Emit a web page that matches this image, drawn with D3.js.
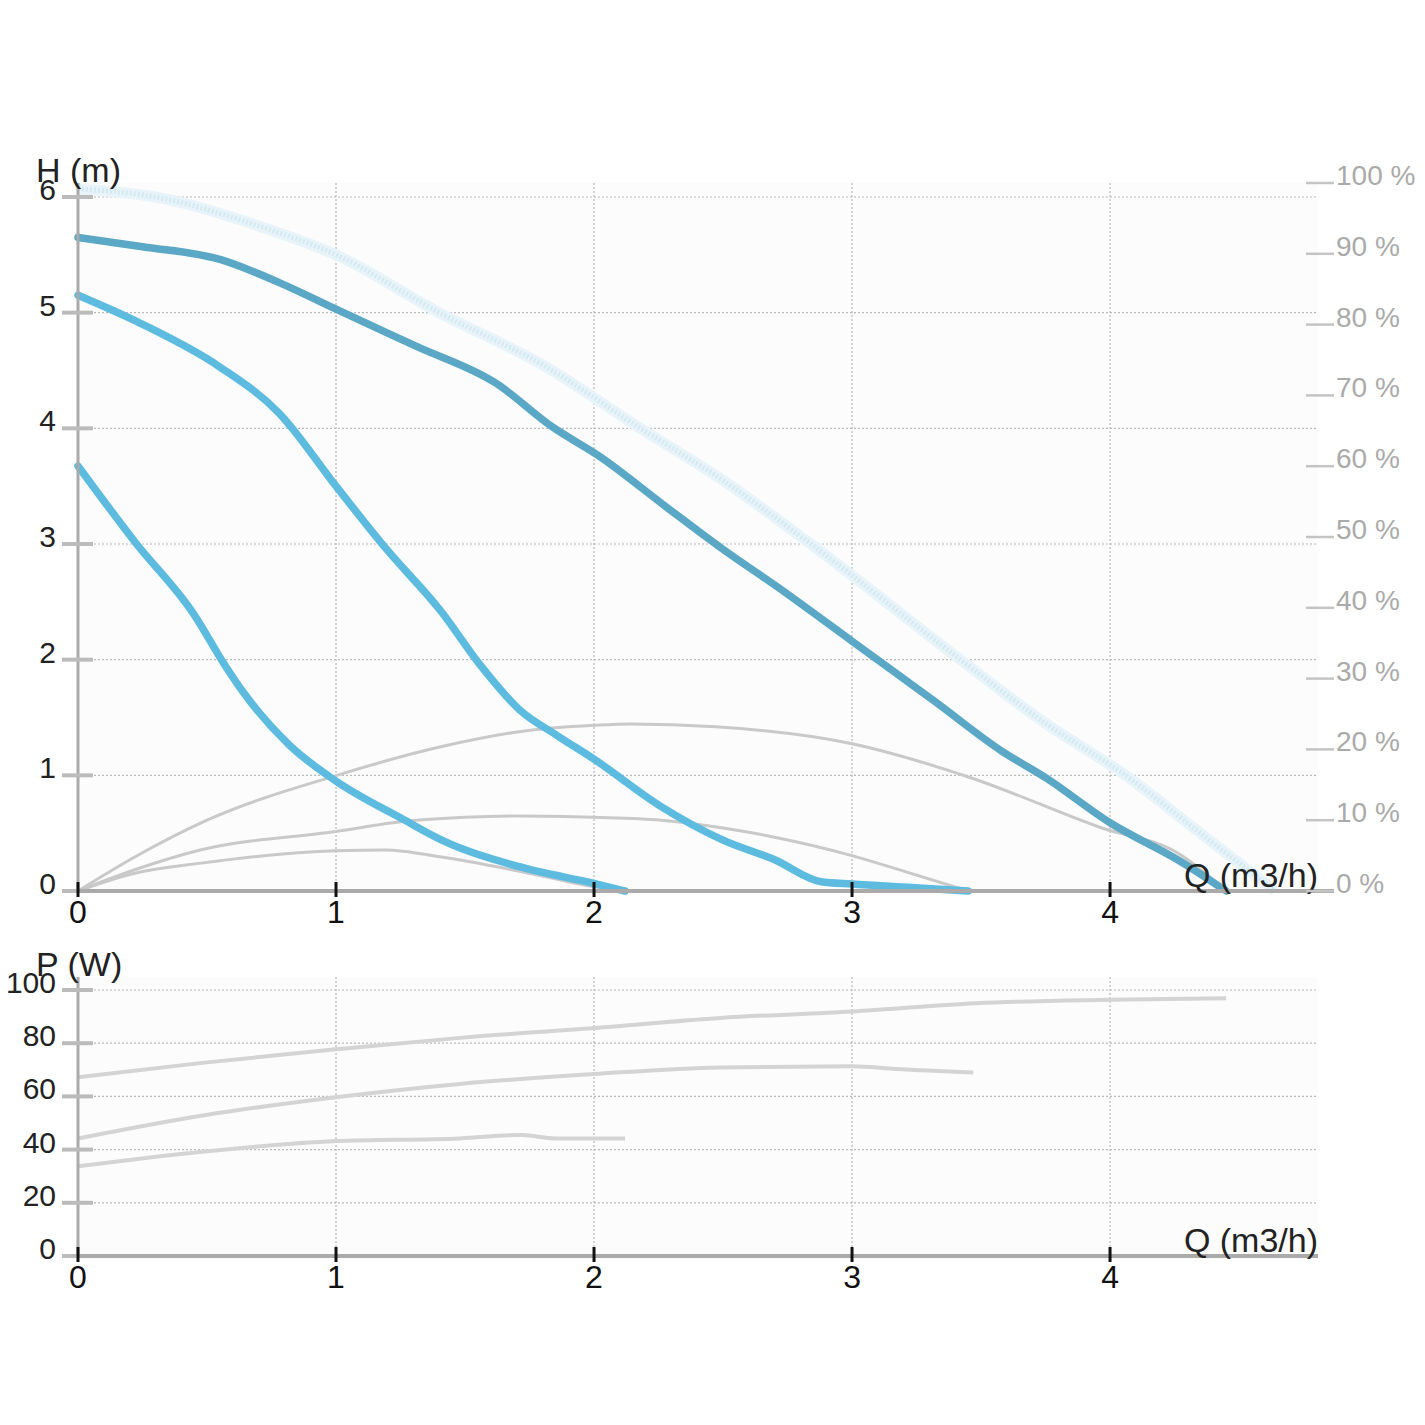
<!DOCTYPE html>
<html>
<head>
<meta charset="utf-8">
<script src="https://cdn.jsdelivr.net/npm/d3@7"></script>
<style>
  body { margin: 0; background: #fff; }
  text { font-family: "Liberation Sans", Arial, sans-serif; }
</style>
</head>
<body>
<div id="chart"></div>
<script>
// ticks
const qTicks = [0, 1, 2, 3, 4];
const hTicks = [0, 1, 2, 3, 4, 5, 6];
const pctTicks = [0, 10, 20, 30, 40, 50, 60, 70, 80, 90, 100];
const pTicks = [0, 20, 40, 60, 80, 100];

// max curve (light, dotted band)
const maxQ = [0, 0.3, 0.7, 1.0, 1.4, 1.8, 2.18, 2.5, 2.84, 3.42, 3.75, 4.06, 4.35, 4.64];
const maxH = [6.07, 6.0, 5.75, 5.5, 5.0, 4.55, 4.0, 3.55, 3.0, 2.0, 1.45, 1.0, 0.5, 0];

// pump curves H(Q)
const highQ = [0, 0.25, 0.55, 0.78, 1.0, 1.31, 1.62, 1.84, 2.02, 2.28, 2.49, 2.71, 3.0, 3.32, 3.58, 3.75, 4.0, 4.27, 4.45];
const highH = [5.65, 5.57, 5.46, 5.26, 5.03, 4.71, 4.39, 4.01, 3.76, 3.32, 2.97, 2.63, 2.16, 1.64, 1.21, 0.98, 0.59, 0.26, 0];
const midQ = [0, 0.24, 0.55, 0.78, 1.0, 1.19, 1.41, 1.56, 1.71, 1.86, 2.0, 2.26, 2.5, 2.7, 2.88, 3.0, 3.23, 3.45];
const midH = [5.15, 4.91, 4.53, 4.13, 3.5, 2.97, 2.41, 1.95, 1.57, 1.34, 1.14, 0.73, 0.44, 0.27, 0.08, 0.06, 0.03, 0];
const lowQ = [0, 0.22, 0.45, 0.57, 0.64, 0.82, 1.0, 1.26, 1.41, 1.71, 2.0, 2.12];
const lowH = [3.675, 3.02, 2.39, 1.95, 1.72, 1.26, 0.95, 0.62, 0.44, 0.21, 0.065, 0];

// efficiency curves (%)
const eff1Q = [0, 0.22, 0.5, 1.0, 1.41, 1.71, 2.0, 2.14, 2.47, 3.0, 3.46, 3.96, 4.27, 4.45];
const eff1 = [0, 4.8, 10, 16.3, 20.4, 22.5, 23.4, 23.6, 23.2, 20.8, 16.0, 9.0, 5.2, 0];
const eff2Q = [0, 0.22, 0.47, 1.0, 1.26, 1.5, 1.72, 2.0, 2.26, 2.5, 2.7, 3.0, 3.2, 3.45];
const eff2 = [0, 3, 5.75, 8.4, 9.8, 10.4, 10.6, 10.4, 10.0, 8.9, 7.6, 5.0, 2.8, 0];
const eff3Q = [0, 0.22, 0.47, 1.0, 1.19, 1.41, 1.71, 2.0, 2.12];
const eff3 = [0, 2.5, 3.9, 5.7, 5.8, 4.8, 2.8, 0.6, 0];

// power curves (W)
const pHighQ = [0, 0.49, 1, 1.48, 2, 2.49, 3, 3.48, 4, 4.45];
const pHigh = [67.2, 72.7, 77.7, 82, 85.7, 89.5, 91.9, 95, 96.3, 96.9];
const pMidQ = [0, 0.49, 1, 1.48, 2, 2.49, 3, 3.17, 3.47];
const pMid = [44.2, 52.9, 59.7, 64.7, 68.4, 70.9, 71.3, 70.3, 69.0];
const pLowQ = [0, 0.49, 1, 1.48, 1.72, 1.85, 2.12];
const pLow = [33.7, 39.3, 43.2, 44.2, 45.5, 44.2, 44.2];

const width = 1425, height = 1425;
const svg = d3.select("#chart").append("svg")
    .attr("width", width).attr("height", height);

const left = 78, right = 1318;
const x = d3.scaleLinear().domain([0, 4.806]).range([left, right]);
const yH = d3.scaleLinear().domain([0, 6]).range([891, 197]);
const yPct = d3.scaleLinear().domain([0, 100]).range([891, 183]);
const yP = d3.scaleLinear().domain([0, 100]).range([1256, 990]);

const topTop = 183, botTop = 977;

function zip(qs, vs) { return qs.map((q, i) => [q, vs[i]]); }

// plot backgrounds
svg.append("rect").attr("x", left).attr("y", topTop).attr("width", right - left)
    .attr("height", yH(0) - topTop).attr("fill", "#fcfcfc");
svg.append("rect").attr("x", left).attr("y", botTop).attr("width", right - left)
    .attr("height", yP(0) - botTop).attr("fill", "#fcfcfc");

// grids
function grid(yScale, ticks, yTop) {
    const g = svg.append("g").attr("stroke", "#b8b8b8").attr("stroke-width", 1.2)
        .attr("stroke-dasharray", "2,2");
    g.selectAll(".h").data(ticks.filter(t => t > 0)).enter().append("line")
        .attr("x1", left).attr("x2", right)
        .attr("y1", d => yScale(d)).attr("y2", d => yScale(d));
    g.selectAll(".v").data(qTicks.filter(t => t > 0)).enter().append("line")
        .attr("x1", d => x(d)).attr("x2", d => x(d))
        .attr("y1", yTop).attr("y2", yScale(0));
}
grid(yH, hTicks, topTop);
grid(yP, pTicks, botTop);

// curves
const lineH = d3.line().x(d => x(d[0])).y(d => yH(d[1])).curve(d3.curveMonotoneX);
const linePct = d3.line().x(d => x(d[0])).y(d => yPct(d[1])).curve(d3.curveMonotoneX);
const lineP = d3.line().x(d => x(d[0])).y(d => yP(d[1])).curve(d3.curveMonotoneX);

// max curve band
svg.append("path").attr("d", lineH(zip(maxQ, maxH)))
    .attr("fill", "none").attr("stroke", "#e8f4f9").attr("stroke-width", 11);
svg.append("path").attr("d", lineH(zip(maxQ, maxH)))
    .attr("fill", "none").attr("stroke", "#d3eaf2").attr("stroke-width", 5)
    .attr("stroke-dasharray", "2,2");

// efficiency
[[eff1Q, eff1], [eff2Q, eff2], [eff3Q, eff3]].forEach(c => {
    svg.append("path").attr("d", linePct(zip(c[0], c[1])))
        .attr("fill", "none").attr("stroke", "#c9c9c9").attr("stroke-width", 3);
});

// pump curves
svg.append("path").attr("d", lineH(zip(highQ, highH)))
    .attr("fill", "none").attr("stroke", "#5aa8c6").attr("stroke-width", 7.5)
    .attr("stroke-linecap", "round");
[[midQ, midH], [lowQ, lowH]].forEach(c => {
    svg.append("path").attr("d", lineH(zip(c[0], c[1])))
        .attr("fill", "none").attr("stroke", "#5dbbe0").attr("stroke-width", 7.5)
        .attr("stroke-linecap", "round");
});

// power
[[pHighQ, pHigh], [pMidQ, pMid], [pLowQ, pLow]].forEach(c => {
    svg.append("path").attr("d", lineP(zip(c[0], c[1])))
        .attr("fill", "none").attr("stroke", "#d4d4d4").attr("stroke-width", 4);
});

// axes
function axes(yScale, ticks, yTop, axisRight, titleY, title) {
    // vertical axis
    svg.append("line").attr("x1", left).attr("x2", left)
        .attr("y1", yTop).attr("y2", yScale(0))
        .attr("stroke", "#aaa").attr("stroke-width", 3);
    // left ticks
    svg.append("g").selectAll("line").data(ticks).enter().append("line")
        .attr("x1", 62).attr("x2", 93)
        .attr("y1", d => yScale(d)).attr("y2", d => yScale(d))
        .attr("stroke", "#bbb").attr("stroke-width", 4);
    svg.append("g").selectAll("text").data(ticks).enter().append("text")
        .attr("x", 56).attr("y", d => yScale(d) + 3)
        .attr("text-anchor", "end").attr("font-size", 30).attr("fill", "#222")
        .text(d => d);
    // horizontal axis
    svg.append("line").attr("x1", left).attr("x2", axisRight)
        .attr("y1", yScale(0)).attr("y2", yScale(0))
        .attr("stroke", "#aaa").attr("stroke-width", 4);
    svg.append("g").selectAll("line").data(qTicks).enter().append("line")
        .attr("x1", d => x(d)).attr("x2", d => x(d))
        .attr("y1", yScale(0) - 9).attr("y2", yScale(0) + 6)
        .attr("stroke", "#111").attr("stroke-width", 3);
    svg.append("g").selectAll("text").data(qTicks).enter().append("text")
        .attr("x", d => x(d)).attr("y", yScale(0) + 32)
        .attr("text-anchor", "middle").attr("font-size", 32).attr("fill", "#111")
        .text(d => d);
    // titles
    svg.append("text").attr("x", 36).attr("y", titleY)
        .attr("font-size", 34).attr("fill", "#222").text(title);
    svg.append("text").attr("x", right).attr("y", yScale(0) - 4)
        .attr("text-anchor", "end").attr("font-size", 34).attr("fill", "#222")
        .text("Q (m3/h)");
}
axes(yH, hTicks, topTop, 1334, 182, "H (m)");
axes(yP, pTicks, botTop, right, 976, "P (W)");

// right percent axis
svg.append("g").selectAll("line").data(pctTicks).enter().append("line")
    .attr("x1", 1306).attr("x2", 1334)
    .attr("y1", d => yPct(d)).attr("y2", d => yPct(d))
    .attr("stroke", "#c4c4c4").attr("stroke-width", 2.5);
svg.append("g").selectAll("text").data(pctTicks).enter().append("text")
    .attr("x", 1336).attr("y", d => yPct(d) + 2)
    .attr("font-size", 28).attr("fill", "#aaa")
    .text(d => d + " %");
</script>
</body>
</html>
